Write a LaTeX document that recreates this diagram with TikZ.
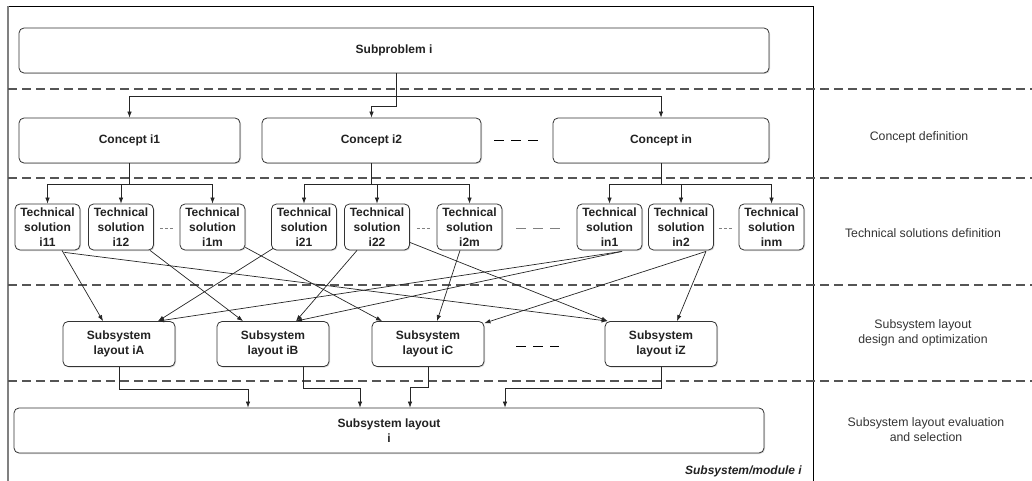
\documentclass[tikz,border=0pt]{standalone}
\usepackage{fontspec}
\setmainfont{Liberation Sans}
\usetikzlibrary{calc,arrows.meta,shadows}
\definecolor{boxline}{HTML}{333333}
\definecolor{txt}{HTML}{222222}
\definecolor{sepc}{HTML}{555555}
\definecolor{lblc}{HTML}{333333}
\begin{document}
\begin{tikzpicture}[x=1pt,y=-1pt,
  box/.style={draw=boxline, line width=0.8pt, rounded corners=5pt, fill=white, align=center,
    inner sep=0pt, font=\fontsize{12}{15}\selectfont\bfseries, text=txt,
    drop shadow={shadow xshift=1pt,shadow yshift=-1pt,opacity=0.3}},
  bigbox/.style={box, minimum width=750pt, minimum height=45pt},
  cbox/.style={box, minimum height=45pt},
  tbox/.style={box, minimum width=65pt, minimum height=46pt},
  lbox/.style={box, minimum width=112pt, minimum height=45pt},
  lbl/.style={align=center, font=\fontsize{12.3}{15}\selectfont, text=lblc},
  conn/.style={line width=0.7pt, draw=black!85},
  arr/.style={conn, -{Latex[length=6pt,width=4.5pt]}},
  sepline/.style={draw=sepc, line width=1.1pt, dash pattern=on 9pt off 5pt},
  gapdash/.style={line width=1pt, dash pattern=on 10pt off 7pt},
  dotgap/.style={draw=gray, line width=1pt, dash pattern=on 3pt off 2pt},
]
\useasboundingbox (0,0) rectangle (1032,481);

% frame
\draw[line width=0.8pt] (8,6) -- (813,6) -- (813,481);
\draw[gray, line width=1.6pt] (8,6) -- (8,481);

% separators
\foreach \yy in {89,178,285,381} \draw[sepline] (8,\yy) -- (1032,\yy);

% nodes
\node[bigbox] (sp) at (394,50.5) {Subproblem i};
\node[cbox, minimum width=221pt] (c1) at (129.5,140.5) {Concept i1};
\node[cbox, minimum width=219pt] (c2) at (371.5,140.5) {Concept i2};
\node[cbox, minimum width=216pt] (cn) at (661,140.5) {Concept in};

\node[tbox] (t11) at (47.5,227) {Technical\\solution\\i11};
\node[tbox] (t12) at (121,227) {Technical\\solution\\i12};
\node[tbox] (t1m) at (212.5,227) {Technical\\solution\\i1m};
\node[tbox] (t21) at (304,227) {Technical\\solution\\i21};
\node[tbox] (t22) at (377,227) {Technical\\solution\\i22};
\node[tbox] (t2m) at (469.5,227) {Technical\\solution\\i2m};
\node[tbox] (tn1) at (609.5,227) {Technical\\solution\\in1};
\node[tbox] (tn2) at (681,227) {Technical\\solution\\in2};
\node[tbox] (tnm) at (771.5,227) {Technical\\solution\\inm};

\node[lbox] (lA) at (119,344) {Subsystem\\layout iA};
\node[lbox] (lB) at (273,344) {Subsystem\\layout iB};
\node[lbox] (lC) at (428,344) {Subsystem\\layout iC};
\node[lbox] (lZ) at (661,344) {Subsystem\\layout iZ};

\node[bigbox] (f) at (389,430.5) {Subsystem layout\\i};

% right labels
\node[lbl] (L1) at (919,137) {Concept definition};
\node[lbl] (L2) at (923,233) {Technical solutions definition};
\node[lbl] (L3) at (923,333) {Subsystem layout\\design and optimization};
\node[lbl] (L4) at (926,430) {Subsystem layout evaluation\\and selection};
\node[font=\fontsize{12}{14}\selectfont\bfseries\itshape, text=txt, anchor=south east, inner sep=0pt] (mod) at (802,477) {Subsystem/module i};

% ellipsis dashes
\draw[gapdash] ($(c2.east)+(13,0)$) -- ($(cn.west)+(-15,0)$);
\draw[dotgap] ($(t12.east)+(6,1)$) -- ($(t1m.west)+(-6,1)$);
\draw[dotgap] ($(t22.east)+(7,1)$) -- ($(t2m.west)+(-6,1)$);
\draw[dotgap] ($(tn2.east)+(5,1)$) -- ($(tnm.west)+(-7,1)$);
\draw[gapdash, draw=gray] ($(t2m.east)+(14,1)$) -- ($(tn1.west)+(-17,1)$);
\draw[gapdash] ($(lC.east)+(32,2)$) -- ($(lZ.west)+(-46,2)$);

% subproblem -> concepts
\coordinate (busS) at (0,96);
\coordinate (busS2) at (0,107);
\draw[arr] ($(sp.south)+(2,0)$) |- ($(c2.north)+(0,-11)$) -- (c2.north);
\draw[arr] ($(sp.south |- busS)+(2,0)$) -| (c1.north);
\draw[arr] ($(sp.south |- busS)+(2,0)$) -| (cn.north);

% concepts -> technical solutions
\coordinate (busT) at (0,184);
\foreach \c/\a/\b/\m in {c1/t11/t12/t1m, c2/t21/t22/t2m, cn/tn1/tn2/tnm} {
  \draw[conn] (\c.south) -- (\c.south |- busT);
  \draw[arr] (\c.south |- busT) -| (\a.north);
  \draw[arr] (\c.south |- busT) -| (\b.north);
  \draw[arr] (\c.south |- busT) -| (\m.north);
}

% technical solutions -> layouts
\draw[arr] ($(t11.south)+(14.5,0)$) -- ($(lA.north)+(-16,0)$);
\draw[arr] ($(t11.south)+(17,2)$) -- ($(lZ.north west)+(3,0)$);
\draw[arr] ($(t12.south)+(29,0)$) -- ($(lB.north)+(-30,0)$);
\draw[arr] ($(t1m.south east)+(0,-3)$) -- ($(lC.north)+(-46,0)$);
\draw[arr] ($(t21.south west)+(2,-2)$) -- ($(lA.north)+(39,0)$);
\draw[arr] ($(t22.south)+(-20,0)$) -- ($(lB.north)+(23,0)$);
\draw[arr] ($(t22.south east)+(0,-8)$) -- ($(lZ.north west)+(3,0)$);
\draw[arr] ($(t2m.south)+(-9.5,0)$) -- ($(lC.north)+(9,0)$);
\draw[arr] ($(tn1.south)+(12.5,1)$) -- ($(lA.north)+(39,0)$);
\draw[arr] ($(tn1.south)+(12.5,1)$) -- ($(lB.north)+(23,0)$);
\draw[arr] ($(tn2.south)+(25,1)$) -- ($(lC.north east)+(0,2)$);
\draw[arr] ($(tn2.south)+(25,1)$) -- ($(lZ.north)+(16,0)$);

% layouts -> final
\coordinate (xA) at (248,0);
\coordinate (xB) at (360,0);
\coordinate (xC) at (410,0);
\coordinate (xZ) at (505,0);
\coordinate (bA) at (0,389);
\coordinate (bB) at (0,388);
\coordinate (bC) at (0,387);
\coordinate (bZ) at (0,388);
\draw[arr] (lA.south) |- (bA -| xA) -- (f.north -| xA);
\draw[arr] ($(lB.south)+(30,0)$) |- (bB -| xB) -- (f.north -| xB);
\draw[arr] (lC.south) |- (bC -| xC) -- (f.north -| xC);
\draw[arr] (lZ.south) |- (bZ -| xZ) -- (f.north -| xZ);
\end{tikzpicture}
\end{document}
